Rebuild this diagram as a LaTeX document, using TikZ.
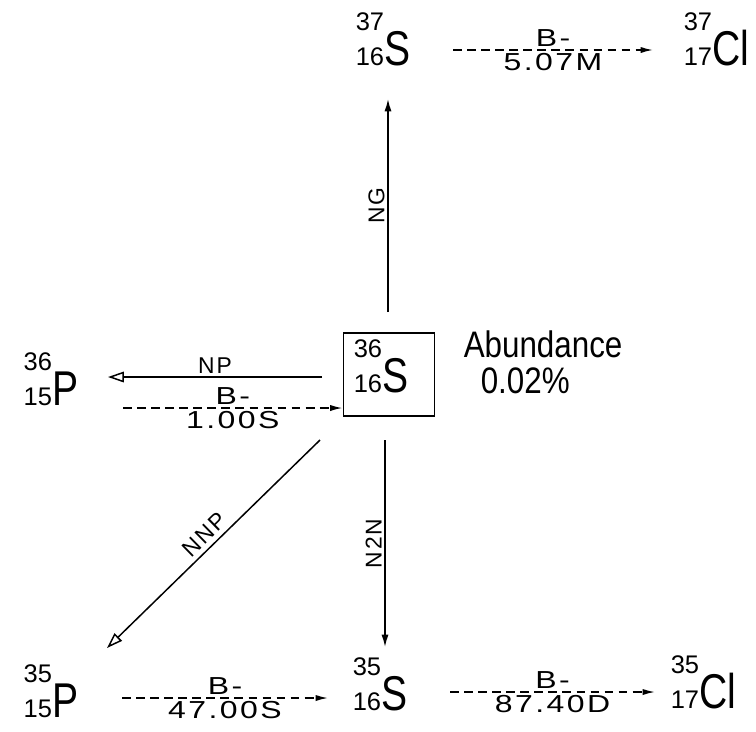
\documentclass[tikz,border=0pt]{standalone}
\usepackage{fontspec}
\setmainfont{Liberation Sans}
\newfontfamily\elfam[FakeStretch=0.8]{Liberation Sans}
\newfontfamily\numfam[FakeStretch=1.3,LetterSpace=10]{Liberation Sans}
\newfontfamily\labfam[LetterSpace=8]{Liberation Sans}
\newfontfamily\abfam[FakeStretch=0.85]{Liberation Sans}
\usetikzlibrary{arrows.meta}
\newcommand{\nuc}[3]{{\fontsize{14.5}{15}\selectfont\rlap{\raisebox{19.5pt}{#1}}#2}{\elfam\fontsize{27.8}{28}\selectfont #3}}
\begin{document}
\begin{tikzpicture}[x=0.02cm, y=-0.02cm, line width=0.85pt,
  nuclide/.style={anchor=base west, inner sep=0pt},
  lab/.style={font=\labfam\fontsize{13}{13}\selectfont, inner sep=1.5pt},
  num/.style={font=\numfam\fontsize{14}{14}\selectfont, inner sep=1.5pt},
  reac/.style={-{Latex[length=7pt,width=4pt]}},
  openreac/.style={-{Triangle[open,length=9pt,width=6pt]}},
  decay/.style={dash pattern=on 5pt off 3pt, -{Latex[length=7pt,width=3.5pt]}},
  abtext/.style={anchor=base west, inner sep=0pt, font=\abfam\fontsize{21}{21}\selectfont}]
\useasboundingbox (0,0) rectangle (756,731);
% nuclides
\node[nuclide] (S37) at (355,65) {\nuc{37}{16}{S}};
\node[nuclide] (Cl37) at (683,65) {\nuc{37}{17}{Cl}};
\node[draw, minimum width=52pt, minimum height=47pt, inner sep=0pt, line width=0.9pt] (box) at (389,374.5) {};
\node[nuclide] (S36) at (353,392) {\nuc{36}{16}{S}};
\node[nuclide] (P36) at (23,405) {\nuc{36}{15}{P}};
\node[nuclide] (P35) at (23,717) {\nuc{35}{15}{P}};
\node[nuclide] (S35) at (352,710) {\nuc{35}{16}{S}};
\node[nuclide] (Cl35) at (670,708) {\nuc{35}{17}{Cl}};
\node[abtext] (ab) at (463,357) {Abundance};
\node[abtext] (pct) at (480,393) {0.02\%};
% connector end points
\coordinate (ngS) at (388,312);   \coordinate (ngE) at (388,99);
\coordinate (d1S) at (453,50);    \coordinate (d1E) at (653,50);
\coordinate (npS) at (322,377);   \coordinate (npE) at (108,377);
\coordinate (d2S) at (123,408);   \coordinate (d2E) at (box.west |- 0,408);
\coordinate (nnpS) at (320,440);  \coordinate (nnpE) at (107,648);
\coordinate (n2nS) at (385,440);  \coordinate (n2nE) at (385,647);
\coordinate (d3S) at (122,698);   \coordinate (d3E) at (328,698);
\coordinate (d4S) at (450,692);   \coordinate (d4E) at (655,692);
% connectors
\draw[reac] (ngS) -- (ngE) node[lab, midway, rotate=90, anchor=south] {NG};
\draw[decay] (d1S) -- (d1E) node[num, midway, above] {B-} node[num, midway, below] {5.07M};
\draw[openreac] (npS) -- (npE) node[lab, midway, above] {NP};
\draw[decay] (d2S) -- (d2E) node[num, midway, above] {B-} node[num, midway, below] {1.00S};
\draw[openreac] (nnpS) -- (nnpE) node[lab, midway, rotate=44.3, anchor=south, yshift=1pt] {NNP};
\draw[reac] (n2nS) -- (n2nE) node[lab, midway, rotate=90, anchor=south] {N2N};
\draw[decay] (d3S) -- (d3E) node[num, midway, above] {B-} node[num, midway, below] {47.00S};
\draw[decay] (d4S) -- (d4E) node[num, midway, above] {B-} node[num, midway, below] {87.40D};
\end{tikzpicture}
\end{document}
